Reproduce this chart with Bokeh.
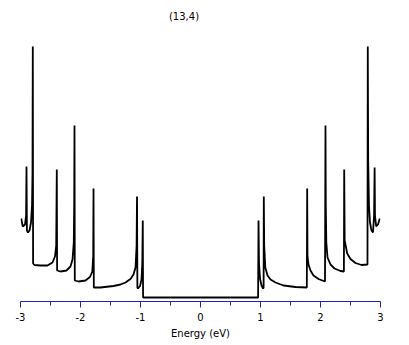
from bokeh.plotting import figure
from bokeh.models import Range1d, FixedTicker, ColumnDataSource
from bokeh.core.properties import value
from bokeh.embed import file_html
from bokeh.resources import INLINE

title_text = "(13,4)"
axis_title = "Energy (eV)"
tick_values = [-3, -2, -1, 0, 1, 2, 3]
tick_labels = ["-3", "-2", "-1", "0", "1", "2", "3"]
minor_tick_values = [-2.5, -1.5, -0.5, 0.5, 1.5, 2.5]

energy = [
    -2.988, -2.962, -2.925, -2.907, -2.900, -2.893, -2.875, -2.850, -2.825, -2.808,
    -2.800, -2.795, -2.790, -2.767, -2.667, -2.550, -2.467, -2.425, -2.405, -2.395,
    -2.390, -2.333, -2.233, -2.167, -2.133, -2.112, -2.105, -2.100, -2.095, -2.033,
    -1.917, -1.842, -1.803, -1.788, -1.783, -1.778, -1.667, -1.450, -1.333, -1.250,
    -1.167, -1.117, -1.083, -1.065, -1.058, -1.052, -1.042, -1.008, -0.983, -0.970,
    -0.962, -0.957,
    0.960, 0.967, 0.975, 0.992, 1.017, 1.043, 1.052, 1.055, 1.062, 1.080,
    1.117, 1.167, 1.250, 1.383, 1.583, 1.772, 1.778, 1.783, 1.800, 1.833,
    1.883, 1.967, 2.075, 2.083, 2.088, 2.097, 2.117, 2.167, 2.233, 2.333,
    2.390, 2.395, 2.403, 2.445, 2.500, 2.583, 2.683, 2.783, 2.788, 2.795,
    2.808, 2.825, 2.850, 2.875, 2.893, 2.902, 2.908, 2.928, 2.958, 2.988,
]
dos = [
    7.9, 7.1, 7.3, 8.2, 13.1, 6.7, 6.5, 6.7, 7.5, 9.2,
    12.5, 25.1, 3.4, 3.25, 3.2, 3.2, 3.5, 4.1, 5.2, 12.8,
    2.7, 2.6, 2.7, 3.1, 3.8, 5.5, 9.4, 17.2, 1.7, 1.6,
    1.7, 2.05, 2.6, 4.2, 10.9, 1.0, 1.0, 1.15, 1.3, 1.5,
    1.85, 2.3, 3.0, 5.2, 10.1, 1.0, 0.9, 1.15, 1.8, 3.5,
    7.7, 0.0,
    0.0, 7.7, 3.5, 1.9, 1.2, 0.9, 1.0, 10.1, 5.2, 3.0,
    2.2, 1.8, 1.5, 1.2, 1.05, 1.0, 10.9, 4.2, 3.3, 2.7,
    2.2, 1.85, 1.6, 17.2, 9.4, 5.5, 4.0, 3.3, 2.9, 2.65,
    2.6, 12.8, 5.7, 4.4, 3.85, 3.45, 3.25, 3.3, 25.1, 13.7,
    9.2, 7.5, 6.7, 6.5, 8.2, 13.0, 8.2, 7.1, 7.3, 7.9,
]

src = ColumnDataSource(dict(x=energy, y=dos))

p = figure(frame_width=360, frame_height=301, output_backend="svg", toolbar_location=None,
           x_range=Range1d(-3, 3), y_range=Range1d(-0.4, 29.7),
           min_border_left=20, min_border_right=21, min_border_top=0,
           min_border_bottom=38)
p.line("x", "y", source=src, line_color="black", line_width=1.8)

p.text(x=[-0.275], y=[28.1], text=[title_text], text_font=value("DejaVu Sans"),
       text_font_size="10px", text_align="center", text_baseline="middle",
       text_color="black")

p.yaxis.visible = False
p.grid.visible = False
p.outline_line_color = None

ax = p.xaxis[0]
ax.ticker = FixedTicker(ticks=tick_values, minor_ticks=minor_tick_values)
ax.major_label_overrides = {v: s for v, s in zip(tick_values, tick_labels)}
ax.axis_label = axis_title
ax.axis_line_color = "#2020c0"
ax.major_tick_line_color = "#2020c0"
ax.minor_tick_line_color = "#2020c0"
ax.major_tick_out = 6
ax.major_tick_in = 0
ax.minor_tick_out = 4
ax.minor_tick_in = 0
ax.major_label_text_font = "DejaVu Sans"
ax.major_label_text_font_size = "10px"
ax.major_label_text_color = "black"
ax.major_label_standoff = 5
ax.axis_label_text_font = "DejaVu Sans"
ax.axis_label_text_font_size = "10px"
ax.axis_label_text_font_style = "normal"
ax.axis_label_text_color = "black"
ax.axis_label_standoff = 4

open("out.html", "w").write(file_html(p, INLINE))
